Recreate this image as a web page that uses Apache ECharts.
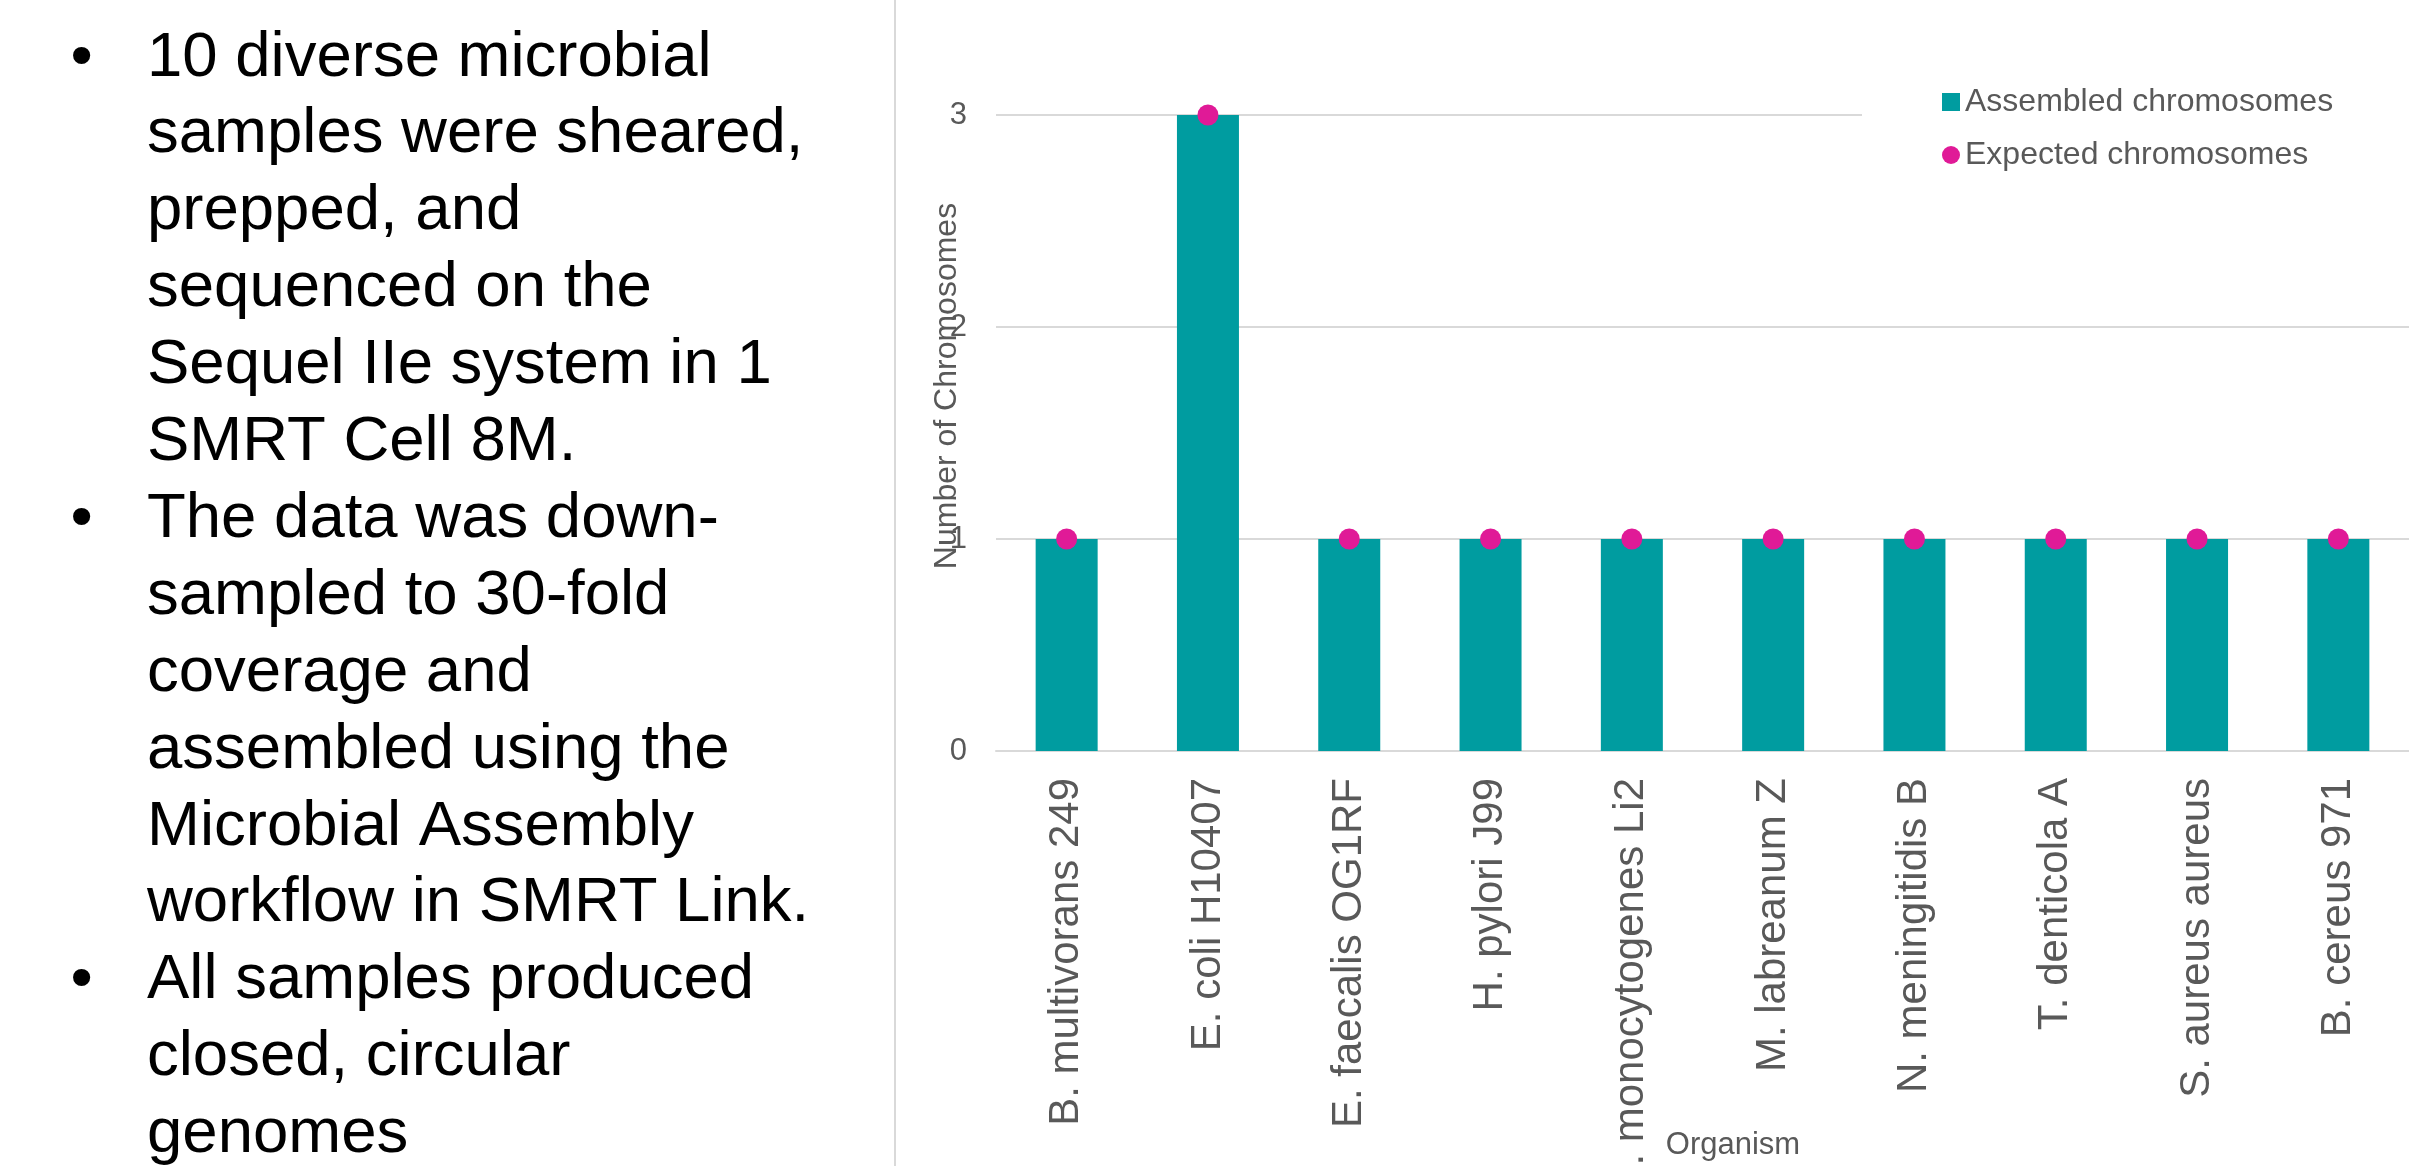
<!DOCTYPE html>
<html>
<head>
<meta charset="utf-8">
<script src="https://cdn.jsdelivr.net/npm/echarts@6/dist/echarts.min.js"></script>
<style>
html,body{margin:0;padding:0;background:#fff;overflow:hidden;}
#c{width:2409px;height:1166px;}
</style>
</head>
<body>
<div id="c"></div>
<script>
const categories = ['B. multivorans 249','E. coli H10407','E. faecalis OG1RF','H. pylori J99','L. monocytogenes Li2','M. labreanum Z','N. meningitidis B','T. denticola A','S. aureus aureus','B. cereus 971'];
const assembled = [1,3,1,1,1,1,1,1,1,1];
const expected = [1,3,1,1,1,1,1,1,1,1];
const seriesNames = ['Assembled chromosomes','Expected chromosomes'];
const yAxisTitle = 'Number of Chromosomes';
const xAxisTitle = 'Organism';
const bulletLines = [
  {b:true,  t:'10 diverse microbial'},
  {b:false, t:'samples were sheared,'},
  {b:false, t:'prepped, and'},
  {b:false, t:'sequenced on the'},
  {b:false, t:'Sequel IIe system in 1'},
  {b:false, t:'SMRT Cell 8M.'},
  {b:true,  t:'The data was down-'},
  {b:false, t:'sampled to 30-fold'},
  {b:false, t:'coverage and'},
  {b:false, t:'assembled using the'},
  {b:false, t:'Microbial Assembly'},
  {b:false, t:'workflow in SMRT Link.'},
  {b:true,  t:'All samples produced'},
  {b:false, t:'closed, circular'},
  {b:false, t:'genomes'}
];

const FONT = '"Liberation Sans", Arial, Helvetica, sans-serif';
const GRAY = '#595959';
const GRID = '#D9D9D9';
const TEAL = '#009CA0';
const MAGENTA = '#E01A97';

const chart = echarts.init(document.getElementById('c'), null, {renderer:'canvas'});

const graphics = [];
graphics.push({
  type:'line', silent:true, z:1,
  shape:{x1:895, y1:0, x2:895, y2:1166},
  style:{stroke:GRID, lineWidth:2}
});
const fs = 63.5, lh = 76.9, base0 = 80;
bulletLines.forEach((ln, i) => {
  const yMid = base0 + i*lh - 0.3465*fs;
  if (ln.b) {
    graphics.push({type:'text', silent:true, x:70.5, y:yMid,
      style:{text:'\u2022', fontSize:fs, fontFamily:FONT, fill:'#000', align:'left', verticalAlign:'middle'}});
  }
  graphics.push({type:'text', silent:true, x:147, y:yMid,
    style:{text:ln.t, fontSize:fs, fontFamily:FONT, fill:'#000', align:'left', verticalAlign:'middle'}});
});
graphics.push({type:'text', silent:true, x:947, y:386, rotation:Math.PI/2,
  style:{text:yAxisTitle, fontSize:32, fontFamily:FONT, fill:GRAY, align:'center', verticalAlign:'middle'}});
graphics.push({type:'text', silent:true, x:1733, y:1145,
  style:{text:xAxisTitle, fontSize:31, fontFamily:FONT, fill:GRAY, align:'center', verticalAlign:'middle'}});

chart.setOption({
  backgroundColor:'#ffffff',
  animation:false,
  textStyle:{fontFamily:FONT},
  grid:{left:996, right:0, top:115, bottom:415, containLabel:false, outerBoundsMode:'none'},
  legend:{
    orient:'vertical', left:1862, top:76, padding:[10,120,10,80],
    backgroundColor:'#ffffff', itemWidth:18, itemHeight:18, itemGap:21,
    selectedMode:false,
    textStyle:{fontSize:32, color:GRAY, fontFamily:FONT},
    data:[{name:seriesNames[0], icon:'rect'},{name:seriesNames[1], icon:'circle'}]
  },
  xAxis:{
    type:'category', data:categories,
    axisLine:{show:true, lineStyle:{color:GRID, width:2}},
    axisTick:{show:false},
    splitLine:{show:false},
    axisLabel:{rotate:90, interval:0, margin:27, fontSize:42, color:GRAY, fontFamily:FONT, hideOverlap:false}
  },
  yAxis:{
    type:'value', min:0, max:3, interval:1,
    axisLine:{show:false}, axisTick:{show:false},
    splitLine:{show:true, lineStyle:{color:GRID, width:2}},
    axisLabel:{margin:29, fontSize:31, color:GRAY, fontFamily:FONT}
  },
  series:[
    {name:seriesNames[0], type:'bar', data:assembled, barWidth:62,
      itemStyle:{color:TEAL, borderWidth:0}, z:2},
    {name:seriesNames[1], type:'scatter', data:expected, symbol:'circle', symbolSize:21,
      itemStyle:{color:MAGENTA, opacity:1}, z:3}
  ],
  graphic:graphics
});
</script>
</body>
</html>
